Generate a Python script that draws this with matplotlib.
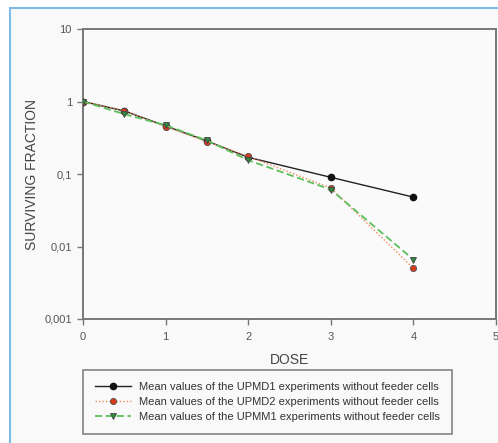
import matplotlib
matplotlib.use("Agg")
import matplotlib.pyplot as plt
from matplotlib.patches import Rectangle
from matplotlib.ticker import FixedLocator, FixedFormatter, NullLocator

# Survival data (mean values, no feeder cells)
dose = [0, 0.5, 1, 1.5, 2, 3, 4]
upmd1 = [1.0, 0.74, 0.46, 0.285, 0.17, 0.09, 0.048]
upmd2 = [1.0, 0.75, 0.45, 0.28, 0.175, 0.064, 0.005]
upmm1 = [1.0, 0.67, 0.47, 0.29, 0.155, 0.061, 0.0066]

labels = [
    "Mean values of the UPMD1 experiments without feeder cells",
    "Mean values of the UPMD2 experiments without feeder cells",
    "Mean values of the UPMM1 experiments without feeder cells",
]

y_ticks = [0.001, 0.01, 0.1, 1, 10]
y_ticklabels = ["0,001", "0,01", "0,1", "1", "10"]
x_ticks = [0, 1, 2, 3, 4, 5]

plt.rcParams["font.family"] = ["Liberation Sans", "DejaVu Sans"]

W, H = 498, 443
fig = plt.figure(figsize=(W / 100, H / 100), dpi=100)
fig.patch.set_facecolor("white")

# light blue panel frame
fig.patches.append(Rectangle((10 / W, -0.05), 1.0, 1 - 8 / H + 0.05,
                             transform=fig.transFigure, facecolor="#f9f9f9",
                             edgecolor="#7fbbe9", linewidth=1.5, zorder=-5))

ax = fig.add_axes([83 / W, 1 - 319 / H, 413 / W, 290 / H])
ax.set_facecolor("#fafafa")
ax.set_yscale("log")
ax.set_xlim(0, 5)
ax.set_ylim(0.001, 10)

ax.plot(dose, upmd1, color="#222222", lw=1.0, ls="-", marker="o", ms=4.5,
        mfc="#111111", mec="#111111", label=labels[0], zorder=3)
ax.plot(dose, upmd2, color="#f08a5a", lw=1.0, ls=(0, (1, 1.5)), marker="o", ms=4.5,
        mfc="#d83a1e", mec="#555555", mew=0.6, label=labels[1], zorder=4)
ax.plot(dose, upmm1, color="#5cc05a", lw=1.3, ls=(0, (4, 2)), marker="v", ms=5,
        mfc="#2e8b3e", mec="#444444", mew=0.6, label=labels[2], zorder=5)

ax.yaxis.set_major_locator(FixedLocator(y_ticks))
ax.yaxis.set_major_formatter(FixedFormatter(y_ticklabels))
ax.yaxis.set_minor_locator(NullLocator())
ax.set_xticks(x_ticks)
ax.set_xticklabels([str(v) for v in x_ticks])

for s in ax.spines.values():
    s.set_color("#777777")
    s.set_linewidth(1.4)

ax.tick_params(axis="both", direction="out", length=4, width=1, color="#777777",
               labelsize=8, labelcolor="#555555")
ax.tick_params(axis="x", pad=5)
ax.tick_params(axis="y", pad=4)

ax.set_ylabel("SURVIVING FRACTION", fontsize=10, color="#444444", labelpad=4)
ax.set_xlabel("DOSE", fontsize=10, color="#444444", labelpad=8)

leg = fig.legend(loc="upper left", bbox_to_anchor=(83 / W, 1 - 370 / H),
                 fontsize=8, frameon=True, fancybox=False, handlelength=3.2,
                 borderpad=1.1, labelspacing=0.45, handletextpad=0.7,
                 borderaxespad=0)
leg.get_frame().set_edgecolor("#666666")
leg.get_frame().set_linewidth(1.2)
leg.get_frame().set_facecolor("#fafafa")
for t in leg.get_texts():
    t.set_color("#333333")

fig.savefig("out.png", dpi=100)
